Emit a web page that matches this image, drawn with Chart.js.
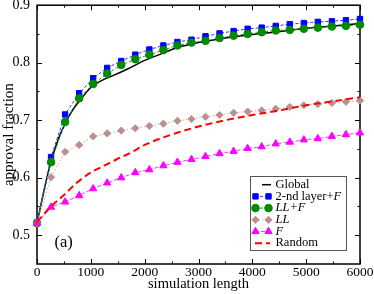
<!DOCTYPE html>
<html>
<head>
<meta charset="utf-8">
<script src="https://cdn.jsdelivr.net/npm/chart.js@4/dist/chart.umd.min.js"></script>
<style>
  html, body { margin: 0; padding: 0; background: #fff; }
  #wrap { width: 374px; height: 294px; }
</style>
</head>
<body>
<div id="wrap"><canvas id="grafica" width="374" height="294"></canvas></div>
<script>
const FUENTE = '"Liberation Serif", "Times New Roman", serif';

// ticks de los ejes
const xTicks = [0, 1000, 2000, 3000, 4000, 5000, 6000];
const yTicks = [0.5, 0.6, 0.7, 0.8, 0.9];

// pasos donde hay marcadores
const xPasos = [0, 261, 522, 783, 1043, 1304, 1565, 1826, 2087, 2348, 2609, 2870,
  3130, 3391, 3652, 3913, 4174, 4435, 4696, 4957, 5217, 5478, 5739, 6000];

const capa2F = [0.522, 0.636, 0.710, 0.747, 0.773, 0.791, 0.803, 0.814, 0.823, 0.830, 0.836, 0.840,
  0.846, 0.851, 0.855, 0.859, 0.861, 0.864, 0.867, 0.869, 0.871, 0.872, 0.874, 0.876];
const llF = [0.521, 0.627, 0.697, 0.738, 0.763, 0.781, 0.796, 0.806, 0.814, 0.822, 0.830, 0.835,
  0.838, 0.843, 0.847, 0.850, 0.853, 0.856, 0.857, 0.859, 0.861, 0.863, 0.864, 0.866];
const ll = [0.521, 0.601, 0.645, 0.657, 0.672, 0.677, 0.682, 0.686, 0.690, 0.694, 0.699, 0.702,
  0.706, 0.709, 0.713, 0.715, 0.717, 0.720, 0.723, 0.726, 0.728, 0.730, 0.732, 0.734];
const soloF = [0.521, 0.549, 0.558, 0.569, 0.581, 0.591, 0.600, 0.609, 0.614, 0.621, 0.627, 0.632,
  0.637, 0.642, 0.646, 0.651, 0.654, 0.659, 0.662, 0.666, 0.668, 0.672, 0.675, 0.678];

// curvas sin marcadores
const globalX = [0, 130, 261, 400, 522, 650, 800, 1000, 1200, 1400, 1700, 2000, 2300, 2600,
  3000, 3500, 4000, 4500, 5000, 5500, 6000];
const globalY = [0.520, 0.578, 0.628, 0.668, 0.694, 0.716, 0.735, 0.757, 0.769, 0.777, 0.790, 0.804,
  0.815, 0.826, 0.835, 0.843, 0.849, 0.854, 0.860, 0.864, 0.868];
const randomX = [0, 250, 500, 750, 1000, 1250, 1500, 1750, 2000, 2500, 3000, 3500, 4000, 4500,
  5000, 5500, 6000];
const randomY = [0.523, 0.549, 0.570, 0.592, 0.609, 0.621, 0.633, 0.644, 0.657, 0.675, 0.689, 0.700,
  0.709, 0.717, 0.726, 0.733, 0.740];

const nombres = ["Global", "2-nd layer+F", "LL+F", "LL", "F", "Random"];
// desde qué carácter va en cursiva (-1 = nada)
const cursivaDesde = [-1, 11, 0, 0, 0, -1];

const puntos = (xs, ys) => xs.map((x, i) => ({ x: x, y: ys[i] }));

const datasets = [
  {
    label: nombres[0], data: puntos(globalX, globalY),
    borderColor: "#000", borderWidth: 1.5, pointRadius: 0,
    cubicInterpolationMode: "monotone", order: 5
  },
  {
    label: nombres[1], data: puntos(xPasos, capa2F),
    borderColor: "#3333ff", borderWidth: 1, borderDash: [3, 2],
    pointStyle: "rect", pointRadius: 3.8, pointBorderWidth: 1,
    pointBackgroundColor: "#0000ff", pointBorderColor: "#0000ff", order: 4
  },
  {
    label: nombres[2], data: puntos(xPasos, llF),
    borderColor: "#2a9a2a", borderWidth: 1, borderDash: [3, 2],
    pointStyle: "circle", pointRadius: 3.8, pointBorderWidth: 1,
    pointBackgroundColor: "#008b00", pointBorderColor: "#008b00", order: 3
  },
  {
    label: nombres[3], data: puntos(xPasos, ll),
    borderColor: "#c9a3a3", borderWidth: 1, borderDash: [1.5, 2],
    pointStyle: "rectRot", pointRadius: 3.6, pointBorderWidth: 1,
    pointBackgroundColor: "#bc8f8f", pointBorderColor: "#bc8f8f", order: 2
  },
  {
    label: nombres[4], data: puntos(xPasos, soloF),
    borderColor: "#ff33ff", borderWidth: 1, borderDash: [4, 2],
    pointStyle: "triangle", pointRadius: 4.2, pointBorderWidth: 1,
    pointBackgroundColor: "#ff00ff", pointBorderColor: "#ff00ff", order: 1
  },
  {
    label: nombres[5], data: puntos(randomX, randomY),
    borderColor: "#ff0000", borderWidth: 2, borderDash: [7, 4], pointRadius: 0,
    cubicInterpolationMode: "monotone", order: 0
  }
];
datasets.forEach(d => { d.clip = false; d.fill = false; d.backgroundColor = d.pointBackgroundColor || d.borderColor; });

// marco con ticks hacia dentro en los cuatro lados
const marco = {
  id: "marco",
  beforeDatasetsDraw(chart) {
    const { ctx, chartArea: a, scales: { x, y } } = chart;
    ctx.save();
    ctx.strokeStyle = "#000";
    ctx.lineWidth = 1;
    ctx.beginPath();
    for (let k = 0; k <= 12; k++) {
      const px = Math.round(x.getPixelForValue(k * 500)) + 0.5;
      const len = k % 2 === 0 ? 5 : 2.5;
      ctx.moveTo(px, a.bottom); ctx.lineTo(px, a.bottom - len);
      ctx.moveTo(px, a.top); ctx.lineTo(px, a.top + len);
    }
    for (let k = 1; k <= 8; k++) {
      const py = Math.round(y.getPixelForValue(0.45 + k * 0.05)) + 0.5;
      const len = k % 2 === 1 ? 5 : 2.5;
      ctx.moveTo(a.left, py); ctx.lineTo(a.left + len, py);
      ctx.moveTo(a.right, py); ctx.lineTo(a.right - len, py);
    }
    ctx.stroke();
    ctx.lineWidth = 1.5;
    ctx.strokeRect(a.left, a.top, a.right - a.left, a.bottom - a.top);
    ctx.restore();
  }
};

function marcador(ctx, d, x, y) {
  ctx.fillStyle = d.pointBackgroundColor;
  ctx.strokeStyle = d.pointBorderColor;
  ctx.lineWidth = d.pointBorderWidth;
  Chart.helpers.drawPoint(ctx, { pointStyle: d.pointStyle, radius: d.pointRadius, rotation: 0, borderWidth: d.pointBorderWidth }, x, y);
}

// leyenda propia (para poder poner partes en cursiva) y la etiqueta (a)
const leyenda = {
  id: "leyenda",
  afterDraw(chart) {
    const ctx = chart.ctx;
    ctx.save();
    ctx.fillStyle = "#fff";
    ctx.fillRect(251, 176, 96, 74);
    ctx.strokeStyle = "#555";
    ctx.lineWidth = 1;
    ctx.strokeRect(250.5, 176.5, 96, 74);

    chart.data.datasets.forEach((d, i) => {
      const yc = 184.7 + i * 11.7;
      ctx.save();
      ctx.strokeStyle = d.borderColor;
      ctx.lineWidth = d.borderWidth;
      ctx.setLineDash(d.borderDash || []);
      ctx.beginPath();
      if (i === 0) { ctx.moveTo(262, yc); ctx.lineTo(271, yc); }
      else { ctx.moveTo(255, yc); ctx.lineTo(270, yc); }
      ctx.stroke();
      ctx.setLineDash([]);
      if (d.pointRadius > 0) {
        marcador(ctx, d, 255.5, yc);
        marcador(ctx, d, 268.5, yc);
      }
      ctx.restore();

      const txt = d.label;
      const corte = cursivaDesde[i] < 0 ? txt.length : cursivaDesde[i];
      ctx.fillStyle = "#000";
      ctx.textBaseline = "middle";
      ctx.textAlign = "left";
      let tx = 275.5;
      ctx.font = "12.5px " + FUENTE;
      ctx.fillText(txt.slice(0, corte), tx, yc);
      tx += ctx.measureText(txt.slice(0, corte)).width;
      ctx.font = "italic 12.5px " + FUENTE;
      ctx.fillText(txt.slice(corte), tx, yc);
    });

    ctx.font = "16.5px " + FUENTE;
    ctx.fillStyle = "#000";
    ctx.textBaseline = "middle";
    ctx.fillText("(a)", 54.5, 242.7);
    ctx.restore();
  }
};

const ctx = document.getElementById("grafica").getContext("2d");

const grafica = new Chart(ctx, {
  type: "line",
  data: { datasets: datasets },
  options: {
    responsive: false,
    animation: false,
    devicePixelRatio: 1,
    layout: { padding: { top: 5, right: 14, left: 0, bottom: 0 } },
    plugins: { legend: { display: false }, tooltip: { enabled: false } },
    scales: {
      x: {
        type: "linear", min: 0, max: 6000,
        grid: { display: false, drawTicks: false },
        border: { display: false },
        ticks: {
          font: { family: FUENTE, size: 13.5 }, color: "#000", padding: 0,
          maxRotation: 0, autoSkip: false, callback: v => String(v)
        },
        afterBuildTicks: s => { s.ticks = xTicks.map(v => ({ value: v })); },
        afterFit: s => { s.height = 30; s.paddingLeft = 0; s.paddingRight = 0; },
        title: {
          display: true, text: "simulation length", color: "#000",
          font: { family: FUENTE, size: 14.5 }, padding: { top: 0, bottom: 1 }
        }
      },
      y: {
        min: 0.45, max: 0.9,
        grid: { display: false, drawTicks: false },
        border: { display: false },
        ticks: {
          font: { family: FUENTE, size: 14 }, color: "#000", padding: 7,
          callback: v => v.toFixed(1)
        },
        afterBuildTicks: s => { s.ticks = yTicks.map(v => ({ value: v })); },
        afterFit: s => { s.width = 37; s.paddingTop = 0; s.paddingBottom = 0; },
        title: {
          display: true, text: "approval fraction", color: "#000",
          font: { family: FUENTE, size: 15 }, padding: 0
        }
      }
    }
  },
  plugins: [marco, leyenda]
});
</script>
</body>
</html>
